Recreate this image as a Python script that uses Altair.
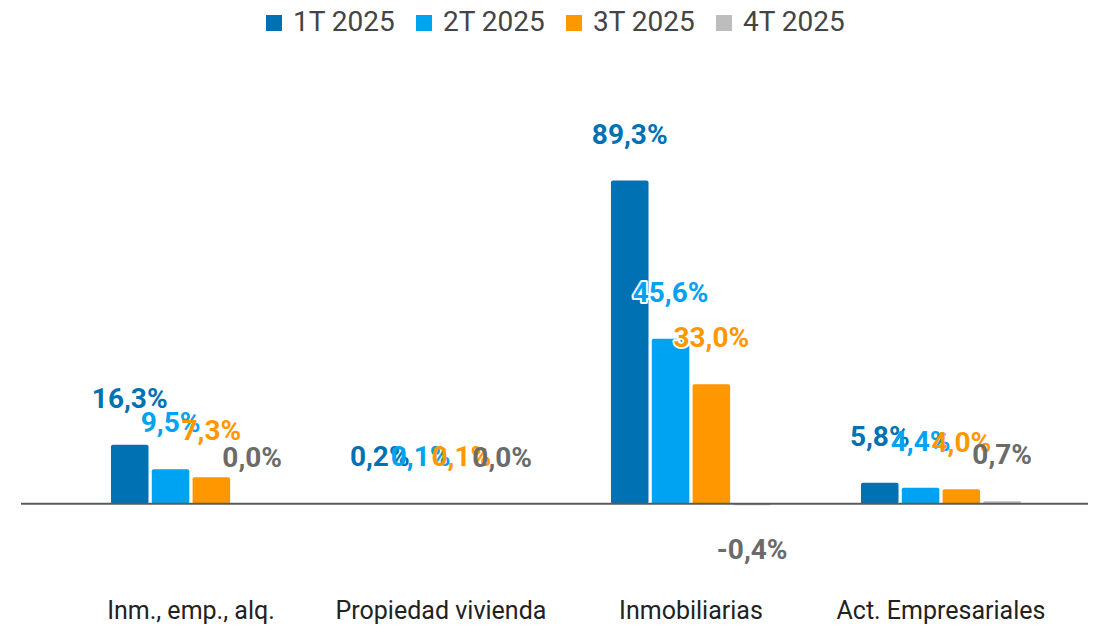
import altair as alt
import pandas as pd

categories = ["Inm., emp., alq.", "Propiedad vivienda", "Inmobiliarias", "Act. Empresariales"]
series = ["1T 2025", "2T 2025", "3T 2025", "4T 2025"]
v_1t = [16.3, 0.2, 89.3, 5.8]
v_2t = [9.5, 0.1, 45.6, 4.4]
v_3t = [7.3, 0.1, 33.0, 4.0]
v_4t = [0.0, 0.0, -0.4, 0.7]

bar_colors = ["#0071B3", "#00A2F2", "#FF9800", "#BDBDBD"]
label_colors = ["#0071B3", "#00A2F2", "#FF9800", "#6B6B6B"]

rows = []
for s, vals in zip(series, [v_1t, v_2t, v_3t, v_4t]):
    for c, v in zip(categories, vals):
        rows.append({"cat": c, "serie": s, "val": v,
                     "label": f"{v:.1f}".replace(".", ",") + "%"})
df = pd.DataFrame(rows)

FONT = "Roboto"
YDOM = [-15, 95]

x = alt.X("cat:N", sort=categories,
          scale=alt.Scale(paddingInner=0.36, paddingOuter=0.314, align=0.573),
          axis=alt.Axis(title=None, labelAngle=0, ticks=False, domain=False,
                        labelFontSize=25, labelColor="#222222", labelFont=FONT,
                        labelPadding=40, labelBaseline="top", labelLimit=400))
xo = alt.XOffset("serie:N", sort=series, scale=alt.Scale(paddingInner=0.08))
y = alt.Y("val:Q", scale=alt.Scale(domain=YDOM, nice=False, zero=True), axis=None)

base = alt.Chart(df)

bars = base.mark_bar(cornerRadius=2).encode(
    x=x, xOffset=xo, y=y, y2=alt.datum(0),
    color=alt.Color("serie:N", sort=series,
                    scale=alt.Scale(domain=series, range=bar_colors),
                    legend=alt.Legend(title=None, orient="none", direction="horizontal",
                                      legendX=239, legendY=-151,
                                      symbolType="square", symbolSize=256,
                                      symbolStrokeWidth=0, labelFontSize=28,
                                      labelFont=FONT, labelColor="#444444",
                                      labelOffset=5, columnPadding=14,
                                      labelLimit=300)),
)

baseline = alt.Chart(pd.DataFrame({"z": [0]})).mark_rule(color="#5a5a5a", strokeWidth=2).encode(
    y=alt.Y("z:Q", scale=alt.Scale(domain=YDOM, nice=False, zero=True), axis=None)
)

lab_color = alt.Color("serie:N", sort=series,
                      scale=alt.Scale(domain=series, range=label_colors), legend=None)

def labels(filt, dy):
    halo = base.transform_filter(filt).mark_text(
        font=FONT, fontSize=28, fontWeight="bold", dy=dy, baseline="middle",
        stroke="white", strokeWidth=4, fill="white", strokeJoin="round"
    ).encode(x=x, xOffset=xo, y=y, text="label:N")
    txt = base.transform_filter(filt).mark_text(
        font=FONT, fontSize=28, fontWeight="bold", dy=dy, baseline="middle"
    ).encode(x=x, xOffset=xo, y=y, text="label:N", color=lab_color)
    return halo + txt

pos_lab = labels("datum.val >= 0", -45)
neg_lab = labels("datum.val < 0", 46)

chart = alt.layer(bars, baseline, pos_lab, neg_lab).resolve_scale(color="independent").properties(
    width=1067, height=398,
    autosize=alt.AutoSizeParams(type="none"),
    padding={"left": 13, "top": 152, "right": 0, "bottom": 68},
).configure(font=FONT).configure_view(strokeWidth=0, stroke="transparent")

chart.save("out.html", embed_options={"renderer": "svg", "actions": False})
